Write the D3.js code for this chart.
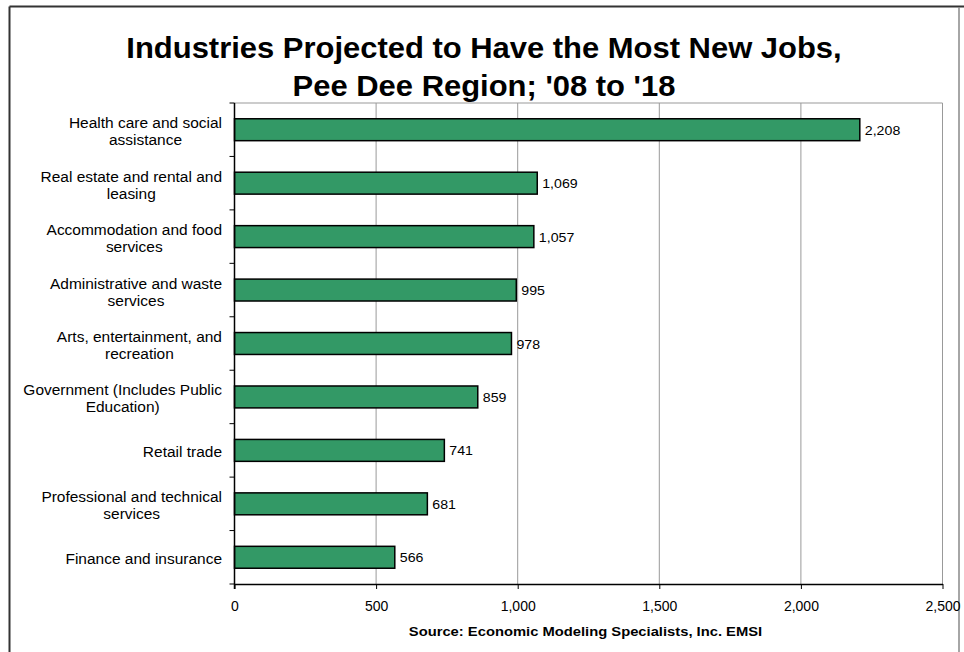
<!DOCTYPE html>
<html>
<head>
<meta charset="utf-8">
<script src="https://cdn.jsdelivr.net/npm/d3@7"></script>
<style>
  html, body { margin: 0; padding: 0; background: #fff; }
  svg { display: block; font-family: "Liberation Sans", Arial, sans-serif; }
</style>
</head>
<body>
<svg id="chart" width="964" height="652"></svg>
<script>
// Industries and projected new jobs, 2008 to 2018
const industries = [
  ["Health care and social", "assistance"],
  ["Real estate and rental and", "leasing"],
  ["Accommodation and food", "services"],
  ["Administrative and waste", "services"],
  ["Arts, entertainment, and", "recreation"],
  ["Government (Includes Public", "Education)"],
  ["Retail trade"],
  ["Professional and technical", "services"],
  ["Finance and insurance"]
];
const newJobs = [2208, 1069, 1057, 995, 978, 859, 741, 681, 566];
const xTicks = [0, 500, 1000, 1500, 2000, 2500];
const titleLines = ["Industries Projected to Have the Most New Jobs,", "Pee Dee Region; '08 to '18"];
const sourceNote = "Source: Economic Modeling Specialists, Inc. EMSI";

const svg = d3.select("#chart");
const W = 964, H = 652;
const plot = { left: 234.5, right: 942.5, top: 103, bottom: 584 };

// widen glyphs slightly (Excel-style wide Arial rendering)
function stretch(sel, factor) {
  sel.each(function () {
    const w = this.getComputedTextLength();
    d3.select(this).attr("textLength", w * factor).attr("lengthAdjust", "spacingAndGlyphs");
  });
}

// outer frame
svg.append("line").attr("x1", 9.5).attr("x2", 9.5).attr("y1", 6.5).attr("y2", H)
  .attr("stroke", "#333").attr("stroke-width", 2);
svg.append("line").attr("x1", 9.5).attr("x2", W).attr("y1", 6.5).attr("y2", 6.5)
  .attr("stroke", "#333").attr("stroke-width", 2);
svg.append("line").attr("x1", 959).attr("x2", 959).attr("y1", 7).attr("y2", H)
  .attr("stroke", "#888").attr("stroke-width", 1.5);

const x = d3.scaleLinear().domain([0, 2500]).range([plot.left, plot.right]);
const keys = industries.map((d, i) => i);
const y = d3.scaleBand().domain(keys).range([plot.top, plot.bottom])
  .paddingInner(0.59).paddingOuter(0.295);

// title
const title = svg.append("g").selectAll("text").data(titleLines).join("text")
  .attr("x", 484).attr("y", (d, i) => 58 + i * 38)
  .attr("text-anchor", "middle")
  .attr("font-size", 29).attr("font-weight", "bold").attr("fill", "#000")
  .text(d => d);
stretch(title, 1.067);

// gridlines
svg.append("g").selectAll("line").data(xTicks.slice(1, -1)).join("line")
  .attr("x1", d => x(d)).attr("x2", d => x(d))
  .attr("y1", plot.top).attr("y2", plot.bottom)
  .attr("stroke", "#999").attr("stroke-width", 1);

// plot frame top/right
svg.append("path")
  .attr("d", `M${plot.left},${plot.top}H${plot.right}V${plot.bottom}`)
  .attr("fill", "none").attr("stroke", "#999").attr("stroke-width", 1);

// bars
svg.append("g").selectAll("rect").data(newJobs).join("rect")
  .attr("x", x(0)).attr("y", (d, i) => y(i))
  .attr("width", d => x(d) - x(0)).attr("height", y.bandwidth())
  .attr("fill", "#339966").attr("stroke", "#000").attr("stroke-width", 1.5);

// value labels
const fmt = d3.format(",");
const vals = svg.append("g").selectAll("text").data(newJobs).join("text")
  .attr("x", d => x(d) + 5).attr("y", (d, i) => y(i) + y.bandwidth() / 2 + 5)
  .attr("font-size", 13).attr("fill", "#000")
  .text(d => fmt(d));
stretch(vals, 1.09);

// x axis
const xAxis = svg.append("g").attr("transform", `translate(0,${plot.bottom})`)
  .call(d3.axisBottom(x).tickValues(xTicks).tickFormat(fmt).tickSizeOuter(0).tickSizeInner(5).tickPadding(12));
xAxis.select(".domain").attr("stroke", "#000").attr("stroke-width", 1.5);
xAxis.selectAll(".tick line").attr("stroke", "#000");
xAxis.selectAll(".tick text").attr("font-size", 14).attr("fill", "#000")
  .attr("font-family", "Liberation Sans, Arial, sans-serif");

// y axis line and ticks at category boundaries
const boundaries = d3.range(industries.length + 1).map(i => plot.top + i * (plot.bottom - plot.top) / industries.length);
svg.append("line").attr("x1", plot.left).attr("x2", plot.left)
  .attr("y1", plot.top).attr("y2", plot.bottom + 5)
  .attr("stroke", "#000").attr("stroke-width", 1.5);
svg.append("g").selectAll("line").data(boundaries).join("line")
  .attr("x1", plot.left - 5).attr("x2", plot.left)
  .attr("y1", d => d).attr("y2", d => d)
  .attr("stroke", "#000").attr("stroke-width", 1);

// category labels: wrapped lines centred on each other, block right-aligned
const labelRight = 222, lineH = 17;
industries.forEach((lines, i) => {
  const cy = y(i) + y.bandwidth() / 2;
  const g = svg.append("g");
  const texts = g.selectAll("text").data(lines).join("text")
    .attr("font-size", 14).attr("fill", "#000")
    .attr("text-anchor", "middle")
    .attr("y", (d, j) => cy + 7 + (j - (lines.length - 1) / 2) * lineH)
    .text(d => d);
  stretch(texts, 1.105);
  let maxW = 0;
  texts.each(function () { maxW = Math.max(maxW, +this.getAttribute("textLength")); });
  texts.attr("x", labelRight - maxW / 2);
});

// source note
const src = svg.append("text")
  .attr("x", (plot.left + plot.right) / 2 - 3).attr("y", 636)
  .attr("text-anchor", "middle").attr("font-size", 13).attr("font-weight", "bold")
  .attr("fill", "#000").text(sourceNote);
stretch(src, 1.135);
</script>
</body>
</html>
